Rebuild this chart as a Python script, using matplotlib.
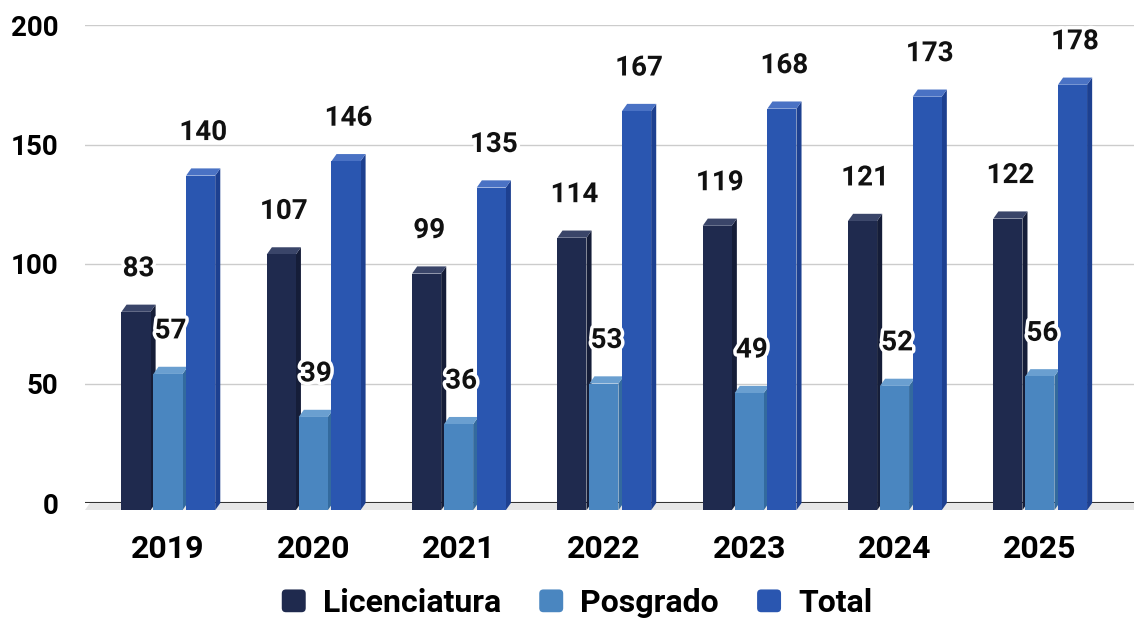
import matplotlib
matplotlib.use("Agg")
import matplotlib.pyplot as plt
import matplotlib.patheffects as pe
from matplotlib.patches import Polygon, FancyBboxPatch
from matplotlib.legend_handler import HandlerPatch
from matplotlib.patches import Patch
import numpy as np

years = ["2019", "2020", "2021", "2022", "2023", "2024", "2025"]
licenciatura = [83, 107, 99, 114, 119, 121, 122]
posgrado = [57, 39, 36, 53, 49, 52, 56]
total = [140, 146, 135, 167, 168, 173, 178]
series_names = ["Licenciatura", "Posgrado", "Total"]
yticks = [0, 50, 100, 150, 200]

front_colors = ["#1f2a4e", "#4a86c0", "#2a56b0"]
side_colors = ["#151d38", "#336a9e", "#1d4090"]
top_colors = ["#3a4569", "#6a9fd0", "#4a72c4"]

FONT = "Roboto"

fig = plt.figure(figsize=(11.34, 6.19), dpi=100)
ax = fig.add_axes([85/1134, 1-503/619, 1-85/1134, (503-25)/619])

x = np.arange(len(years))
width = 0.2
offsets = [-0.22, 0.0, 0.225]
dx, dy = 0.035, 3.0

ax.set_xlim(-0.571, 6.648)
ax.set_ylim(0, 200)

# floor shadow
floor = Polygon([(-0.571, -dy), (6.648, -dy), (6.648, 0), (-0.571 + dx, 0)],
                closed=True, facecolor="#e6e6e6", edgecolor="none", clip_on=False, zorder=1)
ax.add_patch(floor)

for s, vals in enumerate([licenciatura, posgrado, total]):
    xs = x + offsets[s]
    for xi, v in zip(xs, vals):
        l, r = xi - width/2, xi + width/2
        ax.add_patch(Polygon([(r, -dy), (r + dx, 0), (r + dx, v), (r, v - dy)],
                             closed=True, facecolor=side_colors[s], edgecolor="none",
                             clip_on=False, zorder=3))
        ax.add_patch(Polygon([(l, v - dy), (l + dx, v), (r + dx, v), (r, v - dy)],
                             closed=True, facecolor=top_colors[s], edgecolor="none",
                             clip_on=False, zorder=3))
    ax.bar(xs, vals, width=width, bottom=-dy, color=front_colors[s], zorder=3, clip_on=False)
    for xi, v in zip(xs, vals):
        ax.text(xi + dx/2, v + 15, str(v), ha="center", va="center", fontsize=20,
                fontweight="bold", family=FONT, color="#111111", zorder=6,
                path_effects=[pe.withStroke(linewidth=5, foreground="white")])

ax.set_yticks(yticks)
ax.set_yticklabels([str(t) for t in yticks], fontsize=20, fontweight="bold", family=FONT)
ax.set_xticks(x)
ax.set_xticklabels(years, fontsize=23, fontweight="bold", family=FONT)
ax.tick_params(axis="y", length=0, pad=19)
ax.tick_params(axis="x", length=0, pad=22)
ax.grid(axis="y", color="#cccccc", linewidth=1)
ax.set_axisbelow(True)
for sp in ax.spines.values():
    sp.set_visible(False)
ax.axhline(0, color="#333333", linewidth=1.5, zorder=2)


class RoundHandler(HandlerPatch):
    def create_artists(self, legend, orig_handle, xdescent, ydescent, width, height, fontsize, trans):
        p = FancyBboxPatch((-xdescent, -ydescent), width, height,
                           boxstyle="round,pad=0,rounding_size=3",
                           facecolor=orig_handle.get_facecolor(), edgecolor="none",
                           transform=trans)
        return [p]


handles = [Patch(facecolor=c, edgecolor="none") for c in front_colors]
fig.legend(handles, series_names, loc="center", bbox_to_anchor=(0.5 + 10/1134, 1-603/619), ncol=3,
           frameon=False, prop={"family": FONT, "weight": "bold", "size": 23},
           handlelength=0.75, handleheight=0.72, handletextpad=0.53, columnspacing=1.2,
           handler_map={Patch: RoundHandler()})

fig.savefig("out.png", dpi=100)
